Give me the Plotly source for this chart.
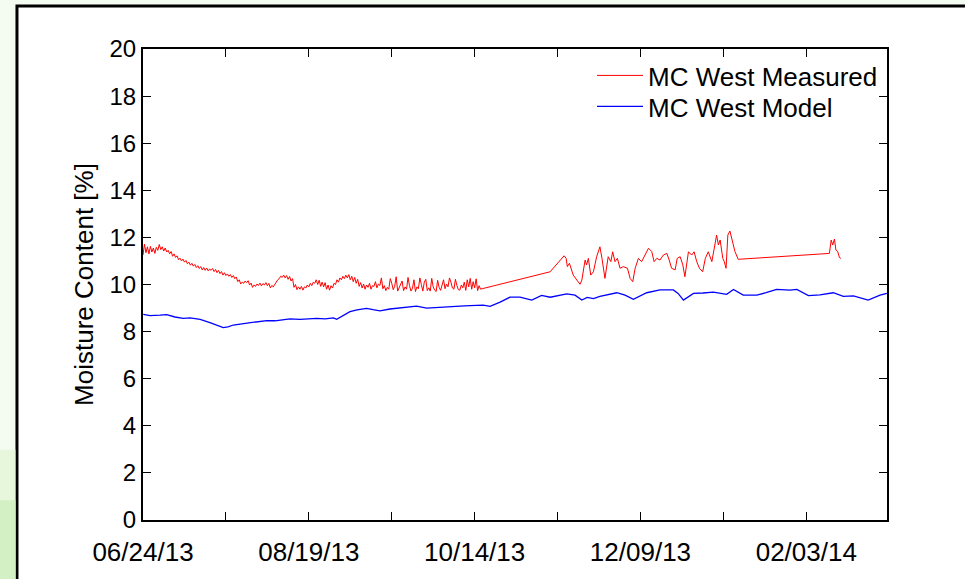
import numpy as np
import pandas as pd
import plotly.graph_objects as go

START = pd.Timestamp("2013-06-24")

# ---- MC West Measured: first segment, sampled every half day from 06/24/13 ----
meas_a_step_days = 0.5
meas_a_values = [
    11.25, 11.72, 11.35, 11.60, 11.30, 11.62, 11.38, 11.55, 11.32, 11.58,
    11.45, 11.70, 11.48, 11.60, 11.42, 11.55, 11.38, 11.45, 11.30, 11.40,
    11.20, 11.30, 11.15, 11.22, 11.05, 11.12, 11.00, 11.08, 10.95, 11.02,
    10.88, 10.95, 10.82, 10.90, 10.78, 10.85, 10.72, 10.80, 10.68, 10.76,
    10.62, 10.72, 10.60, 10.70, 10.58, 10.66, 10.60, 10.68, 10.55, 10.64,
    10.50, 10.60, 10.46, 10.55, 10.40, 10.50, 10.38, 10.45, 10.35, 10.42,
    10.30, 10.38, 10.25, 10.32, 10.12, 10.20, 10.02, 10.10, 10.05, 10.15,
    10.08, 10.16, 9.98, 10.06, 9.88, 9.98, 9.92, 10.02, 9.96, 10.06,
    9.94, 10.04, 9.98, 10.08, 9.95, 10.05, 9.86, 9.96, 9.90, 10.02,
    10.08, 10.20, 10.25, 10.35, 10.30, 10.40, 10.28, 10.38, 10.22, 10.34,
    10.15, 10.25, 9.88, 10.00, 9.78, 9.90, 9.80, 9.92, 9.76, 9.90,
    9.85, 9.98, 9.90, 10.05, 9.95, 10.10, 10.05, 10.20, 10.00, 10.18,
    9.92, 10.10, 9.90, 10.08, 9.80, 9.98, 9.76, 9.95, 9.85, 10.05,
    10.00, 10.20, 10.10, 10.28, 10.20, 10.35, 10.25, 10.40, 10.28, 10.42,
    10.20, 10.35, 10.12, 10.30, 10.05, 10.22, 9.92, 10.08, 9.85, 10.02,
    9.80, 9.98, 9.88, 10.05, 9.80, 9.95, 9.92, 10.12, 9.86, 10.02,
    9.96, 10.28, 9.82, 9.95, 9.74, 9.88, 9.80, 10.25, 10.05, 9.78,
    9.92, 10.33, 9.72, 9.86, 10.05, 10.15, 9.74, 9.90, 9.80, 10.30,
    9.95, 9.72, 9.84, 10.20, 9.70, 9.90, 9.82, 10.28, 10.00, 9.72,
    10.10, 10.22, 9.74, 9.86, 9.72, 10.26, 9.90, 9.76, 9.70, 10.18,
    9.88, 9.75, 9.98, 10.20, 9.82, 10.02, 9.90, 10.28, 10.10, 9.85,
    9.80, 10.22, 9.96, 9.78, 9.76, 9.98, 9.86, 10.10, 9.75, 10.20,
    9.90, 10.26, 9.80, 10.12, 9.86, 10.24, 9.74, 9.95, 9.80, 9.82,
]

# ---- MC West Measured: later readings (days after 06/24/13, value) ----
meas_b_days = [
    137.5, 142.2, 142.9, 143.3, 144.0, 144.8, 145.3, 146.5, 147.6, 148.2,
    149.3, 149.8, 150.4, 151.2, 152.1, 153.2, 154.3, 155.0, 156.0, 157.1,
    158.0, 158.6, 159.4, 160.2, 161.1, 162.2, 163.6, 164.5, 165.4, 166.2,
    167.3, 168.4, 169.5, 170.7, 171.8, 172.6, 173.5, 174.6, 175.7, 176.9,
    177.7, 178.5, 179.7, 180.4, 181.4, 182.3, 183.0, 184.2, 185.3, 186.1,
    187.0, 187.9, 189.0, 189.9, 190.9, 192.1, 192.8, 193.7, 194.3, 194.9,
    195.8, 196.3, 196.9, 197.5, 198.2, 199.1, 199.9, 201.0,
    231.8, 232.4, 232.9, 233.5, 234.0, 234.6, 235.2, 235.7,
]
meas_b_values = [
    10.54, 11.22, 11.11, 10.76, 10.90, 10.54, 10.40, 10.19, 10.01, 10.19,
    11.04, 10.83, 11.11, 10.40, 10.54, 11.18, 11.60, 11.11, 10.26, 11.18,
    10.97, 11.39, 10.97, 11.11, 10.69, 10.76, 10.69, 10.26, 10.12, 10.69,
    11.11, 10.97, 11.25, 11.54, 11.40, 10.97, 11.11, 11.04, 11.25, 11.32,
    11.04, 10.69, 10.62, 11.11, 11.18, 10.83, 10.33, 11.39, 11.25, 11.39,
    10.97, 10.69, 10.54, 11.11, 11.39, 10.97, 11.46, 12.10, 11.68, 11.89,
    11.11, 10.97, 10.69, 12.10, 12.27, 11.75, 11.40, 11.07,
    11.32, 11.89, 11.68, 11.93, 11.46, 11.40, 11.14, 11.11,
]

# ---- MC West Model (days after 06/24/13, value) ----
model_days = [
    0.1, 2.4, 5.7, 8.0, 10.8, 13.6, 15.9, 19.3, 22.6, 24.9,
    27.1, 28.7, 30.5, 32.8, 36.1, 38.8, 41.8, 44.6, 49.6, 53.0,
    58.7, 61.5, 64.3, 65.4, 67.5, 69.9, 72.3, 75.5, 77.7, 80.0,
    83.4, 86.8, 90.2, 92.4, 95.8, 100.3, 103.7, 107.1, 110.4, 114.9,
    117.2, 120.6, 123.9, 127.3, 131.3, 134.6, 137.5, 143.1, 145.9, 148.2,
    150.0, 152.1, 154.3, 160.0, 162.8, 165.6, 170.1, 174.6, 179.1, 180.7,
    182.5, 185.9, 189.1, 192.6, 197.1, 199.4, 202.7, 207.3, 210.4, 214.0,
    218.5, 220.8, 224.7, 228.6, 233.1, 236.5, 239.9, 244.9, 248.9, 251.2,
]
model_values = [
    8.73, 8.68, 8.70, 8.72, 8.62, 8.56, 8.58, 8.52, 8.38, 8.28,
    8.17, 8.20, 8.28, 8.32, 8.38, 8.40, 8.47, 8.46, 8.54, 8.52,
    8.56, 8.54, 8.58, 8.52, 8.68, 8.85, 8.92, 8.99, 8.93, 8.88,
    8.96, 9.01, 9.03, 9.08, 9.00, 9.02, 9.06, 9.08, 9.10, 9.12,
    9.07, 9.25, 9.46, 9.46, 9.34, 9.54, 9.46, 9.60, 9.55, 9.34,
    9.45, 9.40, 9.50, 9.65, 9.55, 9.37, 9.65, 9.77, 9.77, 9.62,
    9.34, 9.62, 9.64, 9.68, 9.58, 9.79, 9.55, 9.55, 9.65, 9.79,
    9.76, 9.79, 9.53, 9.56, 9.65, 9.50, 9.52, 9.34, 9.55, 9.62,
]

# ---- axis ticks ----
tick_dates = ["2013-06-24", "2013-07-22", "2013-08-19", "2013-09-16", "2013-10-14",
              "2013-11-11", "2013-12-09", "2014-01-06", "2014-02-03"]
tick_labels = ["06/24/13", "", "08/19/13", "", "10/14/13", "", "12/09/13", "", "02/03/14"]
x_range = ["2013-06-24", "2014-03-02 06:00"]
y_ticks = [0, 2, 4, 6, 8, 10, 12, 14, 16, 18, 20]

# ---- build series ----
meas_days = list(np.arange(len(meas_a_values)) * meas_a_step_days) + meas_b_days
meas_vals = meas_a_values + meas_b_values
meas_x = START + pd.to_timedelta(meas_days, unit="D")
model_x = START + pd.to_timedelta(model_days, unit="D")

FONT = "Liberation Sans, Arial, sans-serif"

fig = go.Figure()
fig.add_trace(go.Scatter(x=meas_x, y=meas_vals, mode="lines", name="MC West Measured",
                         line=dict(color="#ff0000", width=1), legend="legend"))
fig.add_trace(go.Scatter(x=model_x, y=model_values, mode="lines", name="MC West Model",
                         line=dict(color="#0000ff", width=1.3), legend="legend2"))

axis_common = dict(showline=True, linecolor="black", linewidth=2, mirror="ticks",
                   ticks="inside", ticklen=8, tickwidth=1, tickcolor="black",
                   showgrid=False, zeroline=False)

fig.update_xaxes(type="date", range=x_range, tickmode="array",
                 tickvals=tick_dates, ticktext=tick_labels, ticklabelstandoff=8,
                 tickfont=dict(family=FONT, size=26, color="black"),
                 **axis_common)
fig.update_yaxes(range=[0, 20], tickmode="array", tickvals=y_ticks,
                 tickfont=dict(family=FONT, size=24, color="black"),
                 title=dict(text="Moisture Content [%]",
                            font=dict(family=FONT, size=26, color="black"), standoff=8),
                 **axis_common)

# slide background + white figure frame
shapes = [
    dict(type="rect", xref="paper", yref="paper", x0=-0.1694, x1=1.12, y0=-0.16, y1=1.0913,
         fillcolor="white", line=dict(color="black", width=3), layer="below"),
    dict(type="rect", xref="paper", yref="paper", x0=-0.25, x1=-0.1715, y0=-0.16, y1=0.149,
         fillcolor="#e6f7dc", line=dict(width=0), layer="below"),
    dict(type="rect", xref="paper", yref="paper", x0=-0.25, x1=-0.1715, y0=-0.16, y1=0.042,
         fillcolor="#d2f0c4", line=dict(width=0), layer="below"),
]

legend_style = dict(xanchor="left", yanchor="top", bgcolor="rgba(0,0,0,0)", borderwidth=0,
                    font=dict(family=FONT, size=26, color="black"), itemwidth=46)

fig.update_layout(
    width=965, height=579,
    margin=dict(l=143, r=78, t=49, b=59),
    paper_bgcolor="#f4fbf0", plot_bgcolor="white",
    shapes=shapes,
    showlegend=True,
    legend=dict(x=0.6035, y=0.9936, **legend_style),
    legend2=dict(x=0.6035, y=0.9278, **legend_style),
    font=dict(family=FONT, color="black"),
)

fig.write_html("out.html")
